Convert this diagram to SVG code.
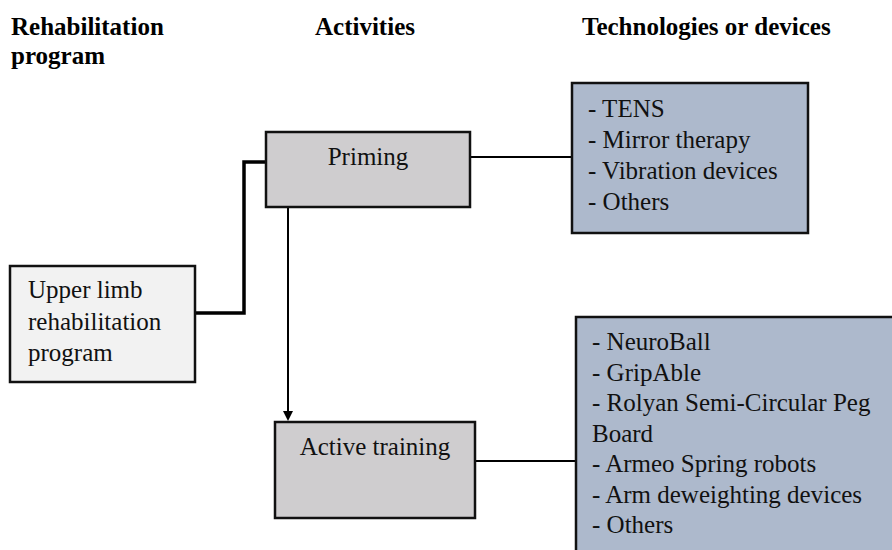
<svg xmlns="http://www.w3.org/2000/svg" width="892" height="550" viewBox="0 0 892 550">
<style>
.h{font-family:"Times New Roman",Times,"Liberation Serif",Tinos,"Noto Serif","DejaVu Serif",serif;font-weight:bold;font-size:25px;fill:#000}
.t{font-family:"Times New Roman",Times,"Liberation Serif",Tinos,"Noto Serif","DejaVu Serif",serif;font-size:25px;fill:#111}
.box{stroke:#111;stroke-width:2.5}
.c{fill:none;stroke:#000;stroke-width:2}
</style>
<rect width="892" height="550" fill="#fff"/>
<g id="headers">
<text class="h" x="11" y="35">Rehabilitation</text>
<text class="h" x="11" y="64">program</text>
<text class="h" x="315" y="35">Activities</text>
<text class="h" x="582" y="35">Technologies or devices</text>
</g>
<g id="connectors">
<path d="M195,313 L244,313 L244,162 L267,162" fill="none" stroke="#000" stroke-width="3.5"/>
<line class="c" x1="288" y1="207" x2="288" y2="412"/>
<path d="M283,411 L293,411 L288,421 Z" fill="#000"/>
<line class="c" x1="470" y1="157" x2="572" y2="157"/>
<line class="c" x1="475" y1="461" x2="576" y2="461"/>
</g>
<g id="upper-limb">
<rect class="box" x="10" y="266" width="185" height="116" fill="#f2f2f2"/>
<text class="t" x="28" y="298">Upper limb</text>
<text class="t" x="28" y="330">rehabilitation</text>
<text class="t" x="28" y="361">program</text>
</g>
<g id="priming">
<rect class="box" x="266" y="132" width="204" height="75" fill="#cfcdcf"/>
<text class="t" x="368" y="165" text-anchor="middle">Priming</text>
</g>
<g id="active-training">
<rect class="box" x="275" y="422" width="200" height="96" fill="#cfcdcf"/>
<text class="t" x="375" y="455" text-anchor="middle">Active training</text>
</g>
<g id="priming-devices">
<rect class="box" x="572" y="83" width="236" height="150" fill="#adb9cc"/>
<text class="t" x="588" y="117">- TENS</text>
<text class="t" x="588" y="148">- Mirror therapy</text>
<text class="t" x="588" y="179">- Vibration devices</text>
<text class="t" x="588" y="210">- Others</text>
</g>
<g id="training-devices">
<rect class="box" x="576" y="317" width="330" height="250" fill="#adb9cc"/>
<text class="t" x="592" y="350">- NeuroBall</text>
<text class="t" x="592" y="380.5">- GripAble</text>
<text class="t" x="592" y="411">- Rolyan Semi-Circular Peg</text>
<text class="t" x="592" y="441.5">Board</text>
<text class="t" x="592" y="472">- Armeo Spring robots</text>
<text class="t" x="592" y="502.5">- Arm deweighting devices</text>
<text class="t" x="592" y="533">- Others</text>
</g>
</svg>
